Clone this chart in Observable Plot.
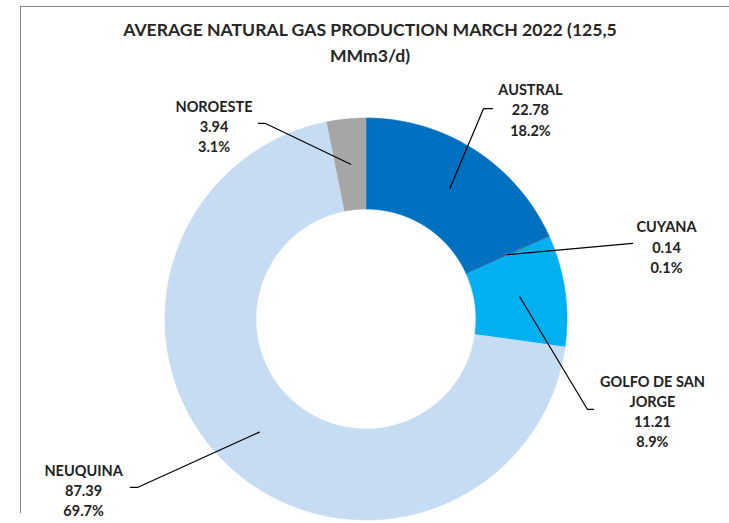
<!DOCTYPE html>
<html>
<head>
<meta charset="utf-8">
<script src="https://cdn.jsdelivr.net/npm/d3@7"></script>
<script src="https://cdn.jsdelivr.net/npm/@observablehq/plot@0.6"></script>
<style>
  html, body { margin: 0; padding: 0; background: #fff; }
  #wrap { position: relative; width: 729px; height: 523px; overflow: hidden; font-family: Lato, "Open Sans", sans-serif; }
  #frame { position: absolute; left: 20px; top: 6px; width: 720px; height: 507px; border-top: 1.5px solid #8a8a8a; border-left: 1.5px solid #8a8a8a; box-sizing: border-box; }
  #title { position: absolute; left: 10px; top: 17px; width: 720px; text-align: center; font-weight: 700; font-size: 17.6px; line-height: 26px; color: #262626; }
  #chart { position: absolute; left: 0; top: 70px; }
</style>
</head>
<body>
<div id="wrap">
  <div id="frame"></div>
  <div id="title"></div>
  <div id="chart"></div>
</div>
<script>
// ---- data ----
const titleLines = ["AVERAGE NATURAL GAS PRODUCTION MARCH 2022 (125,5", "MMm3/d)"];
const regions = ["AUSTRAL", "CUYANA", "GOLFO DE SAN JORGE", "NEUQUINA", "NOROESTE"];
const regionLabels = ["AUSTRAL", "CUYANA", "GOLFO DE SAN\nJORGE", "NEUQUINA", "NOROESTE"];
const values = [22.78, 0.14, 11.21, 87.39, 3.94];

// ---- style / layout (not data) ----
const colors = ["#0070C0", "#1F5E9E", "#00B0F0", "#C5DCF3", "#A6A6A6"];
const innerRatio = 0.547;
// label block centres (in outer-radius units, centre of donut = 0,0)
const labelPos = [[0.818, 1.045], [1.495, 0.363], [1.425, -0.455], [-1.405, -0.848], [-0.756, 0.963]];
// leader-line outer points (same units)
const leaderOuter = [
  [[0.629, 1.047], [0.585, 1.047]],
  [[1.326, 0.376]],
  [[1.132, -0.450], [1.102, -0.450]],
  [[-1.172, -0.838], [-1.137, -0.838]],
  [[-0.535, 0.973], [-0.500, 0.973]]
];

document.getElementById("title").innerHTML = titleLines.join("<br>");

const total = d3.sum(values);
const arcs = d3.pie().sort(null).value(d => d)(values);

// arc polygons
const polyPts = [];
arcs.forEach((a, i) => {
  const span = a.endAngle - a.startAngle;
  const n = Math.max(2, Math.ceil(span / 0.005));
  for (let k = 0; k <= n; k++) {
    const t = a.startAngle + span * k / n;
    polyPts.push({name: regions[i], u: Math.sin(t), v: Math.cos(t)});
  }
  for (let k = n; k >= 0; k--) {
    const t = a.startAngle + span * k / n;
    polyPts.push({name: regions[i], u: innerRatio * Math.sin(t), v: innerRatio * Math.cos(t)});
  }
});

// leader lines
const midR = (1 + innerRatio) / 2;
const leaderPts = [];
arcs.forEach((a, i) => {
  leaderOuter[i].forEach(p => leaderPts.push({name: regions[i], u: p[0], v: p[1]}));
  const m = (a.startAngle + a.endAngle) / 2;
  leaderPts.push({name: regions[i], u: midR * Math.sin(m), v: midR * Math.cos(m)});
});

// labels
const labels = regions.map((r, i) => ({
  name: r,
  u: labelPos[i][0],
  v: labelPos[i][1],
  text: `${regionLabels[i]}\n${values[i].toFixed(2)}\n${(values[i] / total * 100).toFixed(1)}%`
}));

const R = 201, cx = 365.5, cy = 318.5 - 70, W = 729, H = 453;
const chart = Plot.plot({
  width: W,
  height: H,
  margin: 0,
  style: {background: "transparent", overflow: "visible"},
  x: {domain: [-cx / R, (W - cx) / R], axis: null},
  y: {domain: [-(H - cy) / R, cy / R], axis: null},
  color: {domain: regions, range: colors},
  marks: [
    Plot.line(polyPts, {x: "u", y: "v", z: "name", fill: "name", stroke: "name", strokeWidth: 0.6, curve: "linear"}),
    Plot.line(leaderPts, {x: "u", y: "v", z: "name", stroke: "#000", strokeWidth: 1.2}),
    Plot.text(labels, {x: "u", y: "v", text: "text", fontSize: 14.5, fontWeight: "bold", fontFamily: "Lato", lineHeight: 1.4, textAnchor: "middle", lineAnchor: "middle", fill: "#222"})
  ]
});
document.getElementById("chart").appendChild(chart);
</script>
</body>
</html>
